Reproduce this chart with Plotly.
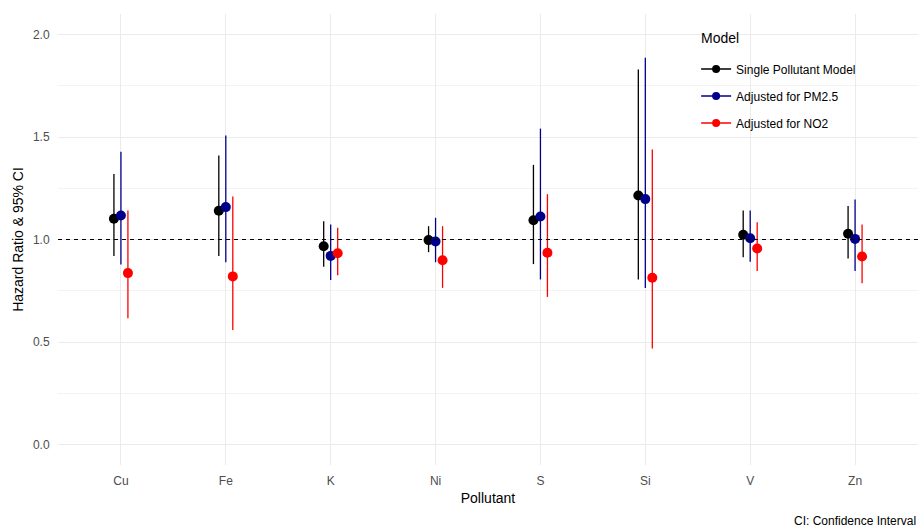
import plotly.graph_objects as go

pollutants = ["Cu", "Fe", "K", "Ni", "S", "Si", "V", "Zn"]

single_hr = [1.101, 1.140, 0.967, 0.997, 1.094, 1.215, 1.023, 1.028]
single_lo = [0.919, 0.919, 0.867, 0.938, 0.880, 0.805, 0.914, 0.907]
single_hi = [1.320, 1.410, 1.089, 1.065, 1.364, 1.829, 1.141, 1.164]

pm25_hr = [1.117, 1.158, 0.920, 0.990, 1.112, 1.197, 1.006, 1.003]
pm25_lo = [0.878, 0.889, 0.802, 0.889, 0.805, 0.763, 0.891, 0.846]
pm25_hi = [1.428, 1.507, 1.073, 1.106, 1.541, 1.886, 1.141, 1.195]

no2_hr = [0.836, 0.820, 0.933, 0.899, 0.935, 0.813, 0.956, 0.917]
no2_lo = [0.616, 0.559, 0.826, 0.764, 0.720, 0.468, 0.846, 0.787]
no2_hi = [1.141, 1.210, 1.057, 1.065, 1.221, 1.439, 1.084, 1.073]

models = ["Single Pollutant Model", "Adjusted for PM2.5", "Adjusted for NO2"]
colors = ["#000000", "#00008B", "#FF0000"]
dodge = [-0.0667, 0.0, 0.0667]

series = [
    (single_hr, single_lo, single_hi),
    (pm25_hr, pm25_lo, pm25_hi),
    (no2_hr, no2_lo, no2_hi),
]

FONT = "Liberation Sans, Arial, sans-serif"
fig = go.Figure()

for k, (name, col, (hr, lo, hi)) in enumerate(zip(models, colors, series)):
    xs = [i + dodge[k] for i in range(len(pollutants))]
    fig.add_trace(go.Scatter(
        x=xs, y=hr, mode="markers", name=name, showlegend=False,
        marker=dict(color=col, size=10),
        error_y=dict(type="data", symmetric=False,
                     array=[h - v for h, v in zip(hi, hr)],
                     arrayminus=[v - l for v, l in zip(hr, lo)],
                     width=0, thickness=1.3, color=col),
        hovertemplate="%{y:.2f}<extra>" + name + "</extra>",
    ))

for k, (name, col) in enumerate(zip(models, colors)):
    fig.add_trace(go.Scatter(
        x=[None], y=[None], mode="lines+markers", name=name,
        legendgroup=f"g{k}",
        line=dict(color=col, width=1.3),
        marker=dict(color=col, size=8),
    ))

fig.add_shape(type="line", xref="paper", x0=0, x1=1, yref="y", y0=1, y1=1,
              line=dict(color="black", width=1, dash="4px,4px"))

# legend title
fig.add_annotation(text="Model", xref="paper", yref="paper",
                   x=(699 - 58) / 860, y=(465.5 - 38) / 451,
                   xanchor="left", yanchor="middle", showarrow=False,
                   font=dict(family=FONT, size=14, color="black"))

fig.add_annotation(text="CI: Confidence Interval", xref="paper", yref="paper",
                   x=1.0, y=-0.125, xanchor="right", yanchor="middle",
                   showarrow=False, font=dict(family=FONT, size=12, color="black"))

fig.update_layout(
    width=919, height=530,
    margin=dict(l=58, r=1, t=14, b=65),
    plot_bgcolor="white", paper_bgcolor="white",
    font=dict(family=FONT, size=12, color="black"),
    showlegend=True,
    legend=dict(
        x=0.742, y=(465.5 - 55) / 451, xanchor="left", yanchor="top",
        bgcolor="rgba(0,0,0,0)",
        font=dict(family=FONT, size=12, color="black"),
        tracegroupgap=8,
    ),
    xaxis=dict(
        range=[-0.6, 7.6],
        tickmode="array",
        tickvals=list(range(len(pollutants))),
        ticktext=pollutants,
        showgrid=True, gridcolor="#ebebeb", gridwidth=1,
        zeroline=False, showline=False,
        ticks="outside", ticklen=5, tickcolor="rgba(0,0,0,0)",
        tickfont=dict(family=FONT, size=12, color="#4d4d4d"),
        title=dict(text="Pollutant", font=dict(family=FONT, size=14, color="black"), standoff=5),
    ),
    yaxis=dict(
        range=[-0.1, 2.1],
        tickmode="linear", tick0=0, dtick=0.5, tickformat=".1f",
        showgrid=True, gridcolor="#ebebeb", gridwidth=1,
        minor=dict(dtick=0.25, tick0=0, showgrid=True, gridcolor="#f3f3f3", gridwidth=1),
        zeroline=False, showline=False,
        ticks="outside", ticklen=5, tickcolor="rgba(0,0,0,0)",
        tickfont=dict(family=FONT, size=12, color="#4d4d4d"),
        title=dict(text="Hazard Ratio & 95% CI", font=dict(family=FONT, size=14, color="black"), standoff=6),
    ),
)

fig.write_html("out.html", config={"displayModeBar": False},
               post_script="document.body.style.margin='0';")
